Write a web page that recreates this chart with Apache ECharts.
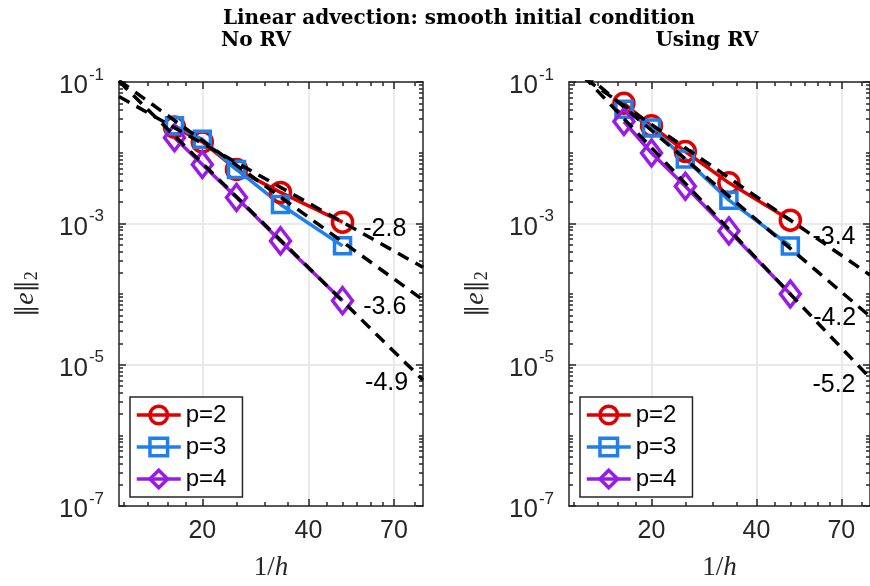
<!DOCTYPE html>
<html><head><meta charset="utf-8">
<script src="https://cdn.jsdelivr.net/npm/echarts@6/dist/echarts.min.js"></script>
<style>html,body{margin:0;padding:0;background:#fff}#c{width:870px;height:586px}</style>
</head><body><div id="c"></div>
<script>
// ---- data ----
const invH = [16.67, 20, 25, 33.33, 50];               // 1/h
const noRV_p2 = [2.30e-2, 1.42e-2, 5.80e-3, 2.74e-3, 1.04e-3];
const noRV_p3 = [2.40e-2, 1.55e-2, 5.80e-3, 1.85e-3, 4.80e-4];
const noRV_p4 = [1.63e-2, 6.80e-3, 2.32e-3, 5.64e-4, 8.05e-5];
const RV_p2 = [5.00e-2, 2.40e-2, 1.04e-2, 3.74e-3, 1.11e-3];
const RV_p3 = [4.10e-2, 2.23e-2, 8.15e-3, 2.13e-3, 4.78e-4];
const RV_p4 = [2.76e-2, 9.90e-3, 3.35e-3, 7.80e-4, 1.00e-4];
// reference rate lines: slope and value at 1/h = 50
const noRV_slopes = [-2.8, -3.6, -4.9];
const noRV_anchor = [1.04e-3, 5.48e-4, 7.96e-5];
const RV_slopes = [-3.4, -4.2, -5.2];
const RV_anchor = [1.11e-3, 4.40e-4, 1.00e-4];
const anchorX = 50;
// slope label positions (data coordinates)
const noRV_labelX = [65.9, 65.9, 66.7];
const noRV_labelY = [8.3e-4, 6.6e-5, 5.5e-6];
const RV_labelX = [66.7, 67.0, 66.7];
const RV_labelY = [6.4e-4, 4.6e-5, 5.2e-6];
// ticks
const xTicks = [20, 40, 70];
const xMinor = [12, 14, 16, 18, 25, 30, 35, 45, 50, 55, 60, 65, 80];
const yTicks = [1e-7, 1e-5, 1e-3, 1e-1];
const yMinor = [];
for (let k = -7; k < -1; k++) for (let m = 1; m <= 9; m++) { if (!(m === 1 && (k % 2 !== 0))) yMinor.push(m * Math.pow(10, k)); }
for (let m = 2; m <= 9; m++) yMinor.push(m * 1e-2);
const seriesNames = ['p=2', 'p=3', 'p=4'];
const X_MIN = 11.6, X_MAX = 84.6, Y_MIN = 1e-7, Y_MAX = 1e-1;

// ---- styles ----
const AX = '#262626';
const FONT = 'Liberation Sans';
const SERIF = 'Liberation Serif';
const colors = ['#e00000', '#1f80eb', '#9a1ae8'];
const symbols = ['circle', 'rect', 'diamond'];
const symSizes = [20, 16, [20, 26]];

const grids = [
  {left: 119, top: 82, width: 304, height: 426},
  {left: 569, top: 82, width: 304, height: 426}
];

function xAxesFor(g) {
  const base = {type: 'log', logBase: 10, min: X_MIN, max: X_MAX, gridIndex: g, splitLine: {show: false}, axisLabel: {show: false}};
  const tickStyle = {color: AX, width: 1.5};
  return [
    Object.assign({}, base, {
      position: 'bottom',
      axisLine: {show: true, lineStyle: {color: AX, width: 1.5}},
      axisTick: {show: true, inside: true, length: 7, customValues: xTicks, lineStyle: tickStyle},
      axisLabel: {show: true, customValues: xTicks, formatter: v => String(Math.round(v)), color: AX, fontSize: 25, fontFamily: FONT, margin: 13},
      splitLine: {show: true, lineStyle: {color: '#e3e3e3', width: 1.5}},
      name: '{r|1/}{i|h}', nameLocation: 'middle', nameGap: 48,
      nameTextStyle: {rich: {r: {fontFamily: SERIF, fontSize: 27, color: AX}, i: {fontFamily: SERIF, fontStyle: 'italic', fontSize: 27, color: AX}}}
    }),
    Object.assign({}, base, {position: 'bottom', axisLine: {show: false},
      axisTick: {show: true, inside: true, length: 4, customValues: xMinor, lineStyle: tickStyle}}),
    Object.assign({}, base, {position: 'top', axisLine: {show: true, lineStyle: {color: AX, width: 1.5}},
      axisTick: {show: true, inside: true, length: 7, customValues: xTicks, lineStyle: tickStyle}}),
    Object.assign({}, base, {position: 'top', axisLine: {show: false},
      axisTick: {show: true, inside: true, length: 4, customValues: xMinor, lineStyle: tickStyle}})
  ];
}
function yAxesFor(g) {
  const base = {type: 'log', logBase: 10, min: Y_MIN, max: Y_MAX, gridIndex: g, splitLine: {show: false}, axisLabel: {show: false}};
  const tickStyle = {color: AX, width: 1.5};
  return [
    Object.assign({}, base, {
      position: 'left',
      axisLine: {show: true, lineStyle: {color: AX, width: 1.5}},
      axisTick: {show: true, inside: true, length: 7, customValues: yTicks, lineStyle: tickStyle},
      axisLabel: {show: true, customValues: yTicks, margin: 15,
        formatter: v => '{b|10}{s|' + Math.round(Math.log10(v)) + '}',
        rich: {b: {fontFamily: FONT, fontSize: 26, color: AX, padding: [8, 0, 0, 0]},
               s: {fontFamily: FONT, fontSize: 17, color: AX, padding: [0, 0, 14, 1]}}},
      splitLine: {show: true, lineStyle: {color: '#e3e3e3', width: 1.5}},
      name: '{a|‖}{e|e}{a|‖}{s|2}', nameLocation: 'middle', nameRotate: 90, nameGap: 78,
      nameTextStyle: {rich: {a: {fontFamily: 'DejaVu Serif', fontSize: 24, color: AX},
                             e: {fontFamily: SERIF, fontStyle: 'italic', fontSize: 28, color: AX},
                             s: {fontFamily: SERIF, fontSize: 18, color: AX, padding: [12, 0, 0, 0]}}}
    }),
    Object.assign({}, base, {position: 'left', axisLine: {show: false},
      axisTick: {show: true, inside: true, length: 4, customValues: yMinor, lineStyle: tickStyle}}),
    Object.assign({}, base, {position: 'right', axisLine: {show: true, lineStyle: {color: AX, width: 1.5}},
      axisTick: {show: true, inside: true, length: 7, customValues: yTicks, lineStyle: tickStyle}}),
    Object.assign({}, base, {position: 'right', axisLine: {show: false},
      axisTick: {show: true, inside: true, length: 4, customValues: yMinor, lineStyle: tickStyle}})
  ];
}

function dataSeries(g, sets) {
  return sets.map((ys, i) => ({
    type: 'line', name: seriesNames[i], xAxisIndex: g * 4, yAxisIndex: g * 4,
    data: invH.map((x, j) => [x, ys[j]]),
    symbol: symbols[i], symbolSize: symSizes[i], showAllSymbol: true,
    lineStyle: {color: colors[i], width: 3.5},
    itemStyle: {color: 'rgba(255,255,255,0)', borderColor: colors[i], borderWidth: 3.5},
    emphasis: {disabled: true},
    z: 3
  }));
}
function rateSeries(g, slopes, anchors) {
  return slopes.map((s, i) => ({
    type: 'line', name: 'rate' + g + i, xAxisIndex: g * 4, yAxisIndex: g * 4,
    data: [X_MIN, X_MAX].map(x => [x, anchors[i] * Math.pow(x / anchorX, s)]),
    symbol: 'none', clip: true,
    lineStyle: {color: '#000', width: 3.5, type: [12, 8]},
    emphasis: {disabled: true},
    z: 4
  }));
}
function labelSeries(g, slopes, lx, ly) {
  return {
    type: 'scatter', name: 'labels' + g, xAxisIndex: g * 4, yAxisIndex: g * 4,
    data: slopes.map((s, i) => ({name: s.toFixed(1), value: [lx[i], ly[i]]})),
    symbolSize: 1, itemStyle: {color: 'rgba(0,0,0,0)'},
    label: {show: true, position: 'inside', formatter: '{b}', fontFamily: FONT, fontSize: 25,
            color: '#000', opacity: 1, textBorderWidth: 0, textShadowBlur: 0},
    emphasis: {disabled: true},
    z: 5
  };
}

const legendBase = {
  data: seriesNames, orient: 'vertical', top: 397, itemWidth: 44, itemHeight: 22, itemGap: 8,
  padding: [6, 16, 6, 5], borderColor: AX, borderWidth: 1.5, backgroundColor: '#fff',
  lineStyle: {width: 3.5}, itemStyle: {borderWidth: 3.5},
  textStyle: {fontSize: 24, fontFamily: FONT, color: '#000'}, selectedMode: false, z: 10
};
const titleFont = {fontFamily: 'DejaVu Serif', fontWeight: 'bold', fontSize: 20, color: '#000'};

const option = {
  animation: false,
  backgroundColor: '#fff',
  title: [
    {text: 'Linear advection: smooth initial condition', left: 459, top: 9, textAlign: 'center', padding: 0, textStyle: titleFont},
    {text: 'No RV', left: 256, top: 31, textAlign: 'center', padding: 0, textStyle: titleFont},
    {text: 'Using RV', left: 707, top: 31, textAlign: 'center', padding: 0, textStyle: titleFont}
  ],
  legend: [Object.assign({}, legendBase, {left: 130}), Object.assign({}, legendBase, {left: 580})],
  grid: grids,
  xAxis: xAxesFor(0).concat(xAxesFor(1)),
  yAxis: yAxesFor(0).concat(yAxesFor(1)),
  series: [].concat(
    dataSeries(0, [noRV_p2, noRV_p3, noRV_p4]),
    rateSeries(0, noRV_slopes, noRV_anchor),
    [labelSeries(0, noRV_slopes, noRV_labelX, noRV_labelY)],
    dataSeries(1, [RV_p2, RV_p3, RV_p4]),
    rateSeries(1, RV_slopes, RV_anchor),
    [labelSeries(1, RV_slopes, RV_labelX, RV_labelY)]
  )
};
const chart = echarts.init(document.getElementById('c'));
chart.setOption(option);
</script>
</body></html>
